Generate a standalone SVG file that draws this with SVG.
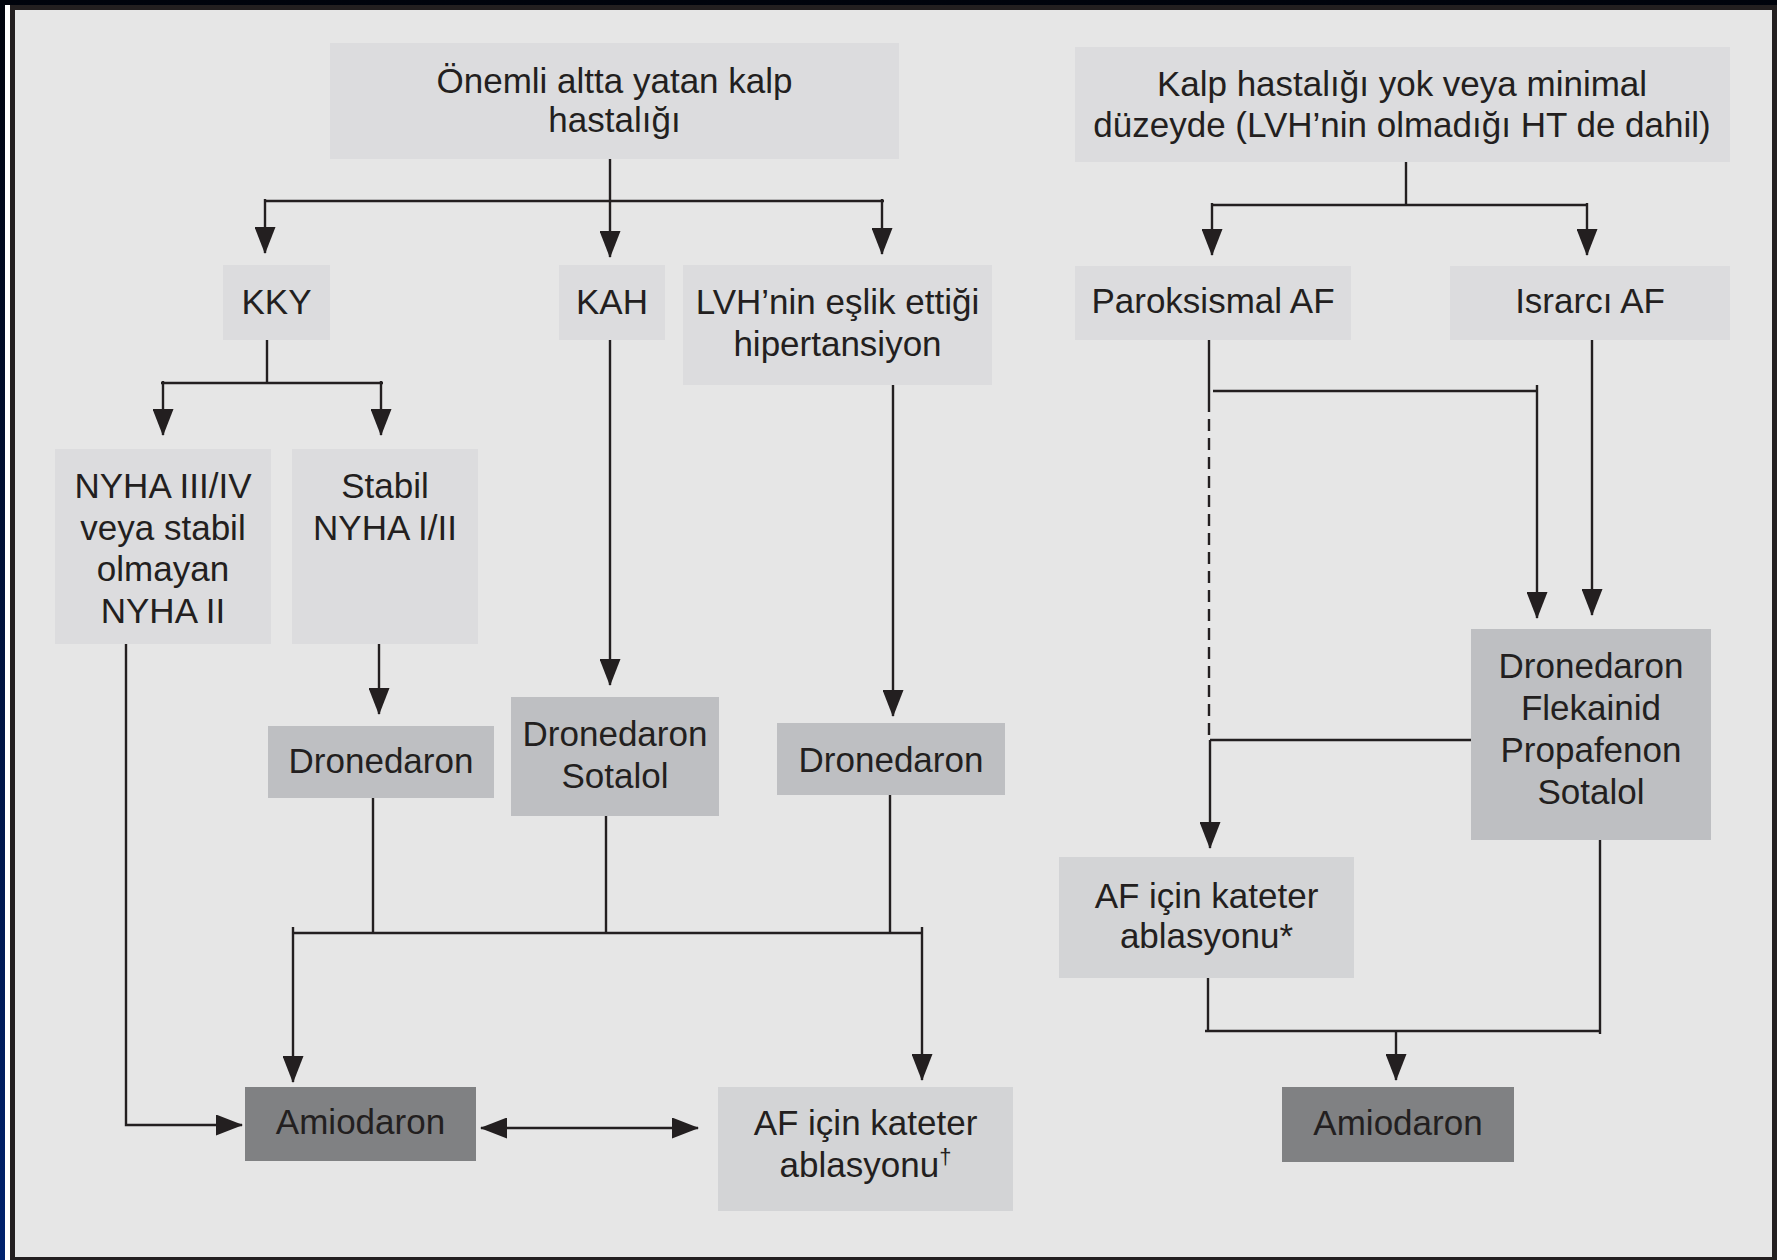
<svg xmlns="http://www.w3.org/2000/svg" width="1777" height="1260" viewBox="0 0 1777 1260">
  <defs>
    <linearGradient id="navy" x1="0" y1="0" x2="0" y2="1">
      <stop offset="0" stop-color="#00030c"/>
      <stop offset="1" stop-color="#00226e"/>
    </linearGradient>
    <marker id="arr" markerUnits="userSpaceOnUse" markerWidth="27" markerHeight="21" viewBox="0 0 27 21" refX="26" refY="10.5" orient="auto-start-reverse">
      <path d="M0,0 L27,10.5 L0,21 Z" fill="#231f20"/>
    </marker>
    <style>
      text { font-family: "Liberation Sans", Arial, Helvetica, sans-serif; font-size: 35px; fill: #231f20; text-anchor: middle; }
      .lt { fill: #dcdcde; }
      .ab { fill: #d3d4d6; }
      .md { fill: #bebfc2; }
      .dk { fill: #808183; }
      .ln { fill: none; stroke: #231f20; stroke-width: 2.4; }
      .ar { marker-end: url(#arr); }
      .dash { stroke-dasharray: 12 7; }
    </style>
  </defs>

  <!-- frame -->
  <rect x="0" y="0" width="1777" height="1260" fill="url(#navy)"/>
  <rect x="5" y="5" width="5" height="1255" fill="#ffffff"/>
  <rect x="10" y="5" width="1767" height="1255" fill="#231f20"/>
  <rect x="15" y="10" width="1757" height="1247" fill="#e6e6e6"/>

  <!-- connectors -->
  <g id="connectors">
    <!-- left tree -->
    <path class="ln ar" d="M610,159 V257"/>
    <path class="ln" d="M265,201 H884"/>
    <path class="ln ar" d="M265,199 V253"/>
    <path class="ln ar" d="M882,199 V254"/>
    <path class="ln" d="M267,340 V383"/>
    <path class="ln" d="M161,383 H383"/>
    <path class="ln ar" d="M163,381 V435"/>
    <path class="ln ar" d="M381,381 V435"/>
    <path class="ln ar" d="M379,644 V714"/>
    <path class="ln ar" d="M610,340 V685"/>
    <path class="ln ar" d="M893,385 V716"/>
    <path class="ln" d="M373,798 V933"/>
    <path class="ln" d="M606,816 V933"/>
    <path class="ln" d="M890,795 V933"/>
    <path class="ln" d="M293,933 H922"/>
    <path class="ln ar" d="M293,927 V1082"/>
    <path class="ln ar" d="M922,927 V1080"/>
    <path class="ln ar" d="M126,644 V1125 H242"/>
    <path class="ln" d="M481,1128 H698" marker-start="url(#arr)" marker-end="url(#arr)"/>

    <!-- right tree -->
    <path class="ln" d="M1406,162 V205"/>
    <path class="ln" d="M1212,205 H1587"/>
    <path class="ln ar" d="M1212,203 V255"/>
    <path class="ln ar" d="M1587,203 V255"/>
    <path class="ln" d="M1209,340 V400"/>
    <path class="ln dash" d="M1209,400 V740"/>
    <path class="ln ar" d="M1210,740 V848"/>
    <path class="ln" d="M1213,391 H1537"/>
    <path class="ln ar" d="M1537,385 V618"/>
    <path class="ln ar" d="M1592,340 V615"/>
    <path class="ln" d="M1471,740 H1210"/>
    <path class="ln" d="M1600,840 V1034"/>
    <path class="ln" d="M1208,978 V1031"/>
    <path class="ln" d="M1205,1031 H1601"/>
    <path class="ln ar" d="M1396,1031 V1080"/>
  </g>

  <!-- left tree nodes -->
  <g id="n-onemli">
    <rect class="lt" x="330" y="43" width="569" height="116"/>
    <text x="614.5" y="93">Önemli altta yatan kalp</text>
    <text x="614.5" y="132">hastalığı</text>
  </g>
  <g id="n-kky">
    <rect class="lt" x="223" y="265" width="107" height="75"/>
    <text x="276.5" y="314">KKY</text>
  </g>
  <g id="n-kah">
    <rect class="lt" x="559" y="265" width="106" height="75"/>
    <text x="612" y="314">KAH</text>
  </g>
  <g id="n-lvh">
    <rect class="lt" x="683" y="265" width="309" height="120"/>
    <text x="837.5" y="314">LVH’nin eşlik ettiği</text>
    <text x="837.5" y="356">hipertansiyon</text>
  </g>
  <g id="n-nyha-34">
    <rect class="lt" x="55" y="449" width="216" height="195"/>
    <text x="163" y="498">NYHA III/IV</text>
    <text x="163" y="539.5">veya stabil</text>
    <text x="163" y="581">olmayan</text>
    <text x="163" y="622.5">NYHA II</text>
  </g>
  <g id="n-nyha-12">
    <rect class="lt" x="292" y="449" width="186" height="195"/>
    <text x="385" y="498">Stabil</text>
    <text x="385" y="539.5">NYHA I/II</text>
  </g>
  <g id="n-dronedaron-1">
    <rect class="md" x="268" y="726" width="226" height="72"/>
    <text x="381" y="773">Dronedaron</text>
  </g>
  <g id="n-dronedaron-sotalol">
    <rect class="md" x="511" y="697" width="208" height="119"/>
    <text x="615" y="746">Dronedaron</text>
    <text x="615" y="788">Sotalol</text>
  </g>
  <g id="n-dronedaron-2">
    <rect class="md" x="777" y="723" width="228" height="72"/>
    <text x="891" y="772">Dronedaron</text>
  </g>
  <g id="n-amiodaron-1">
    <rect class="dk" x="245" y="1087" width="231" height="74"/>
    <text x="360.5" y="1134">Amiodaron</text>
  </g>
  <g id="n-ablasyon-1">
    <rect class="ab" x="718" y="1087" width="295" height="124"/>
    <text x="865.5" y="1135">AF için kateter</text>
    <text x="865.5" y="1177">ablasyonu<tspan font-size="22" dy="-13">†</tspan></text>
  </g>

  <!-- right tree nodes -->
  <g id="n-kalp-yok">
    <rect class="lt" x="1075" y="47" width="655" height="115"/>
    <text x="1402" y="96">Kalp hastalığı yok veya minimal</text>
    <text x="1402" y="137">düzeyde (LVH’nin olmadığı HT de dahil)</text>
  </g>
  <g id="n-paroksismal">
    <rect class="lt" x="1075" y="266" width="276" height="74"/>
    <text x="1213" y="313">Paroksismal AF</text>
  </g>
  <g id="n-israrci">
    <rect class="lt" x="1450" y="266" width="280" height="74"/>
    <text x="1590" y="313">Israrcı AF</text>
  </g>
  <g id="n-ilaclar">
    <rect class="md" x="1471" y="629" width="240" height="211"/>
    <text x="1591" y="678">Dronedaron</text>
    <text x="1591" y="720">Flekainid</text>
    <text x="1591" y="762">Propafenon</text>
    <text x="1591" y="804">Sotalol</text>
  </g>
  <g id="n-ablasyon-2">
    <rect class="ab" x="1059" y="857" width="295" height="121"/>
    <text x="1206.5" y="908">AF için kateter</text>
    <text x="1206.5" y="948">ablasyonu*</text>
  </g>
  <g id="n-amiodaron-2">
    <rect class="dk" x="1282" y="1087" width="232" height="75"/>
    <text x="1398" y="1135">Amiodaron</text>
  </g>
</svg>
